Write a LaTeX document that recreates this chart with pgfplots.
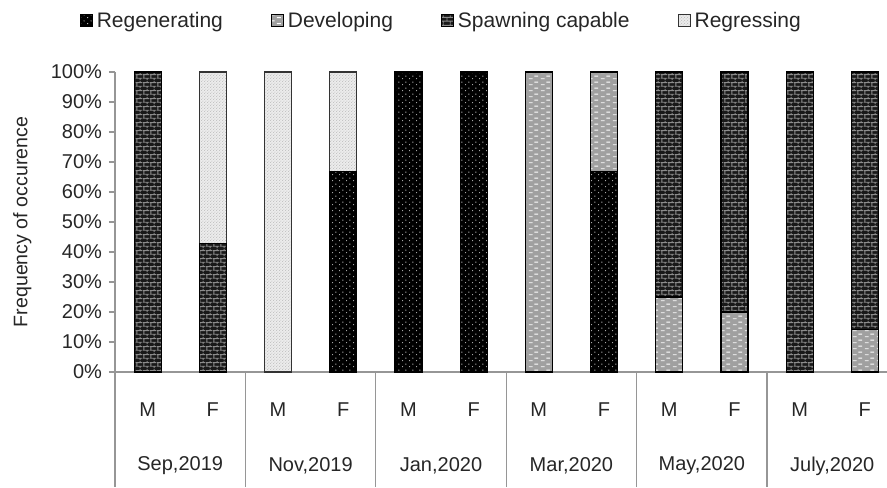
\documentclass[border=0pt]{standalone}
\usepackage{pgfplots}
\pgfplotsset{compat=1.18}
\usepackage{fontspec}
\setmainfont{Liberation Sans}
\usetikzlibrary{patterns}

\pgfdeclarepatternformonly{regen}{\pgfqpoint{0pt}{0pt}}{\pgfqpoint{3.6pt}{3pt}}{\pgfqpoint{3.6pt}{3pt}}{%
  \pgfpathcircle{\pgfqpoint{0.9pt}{0.75pt}}{0.3pt}%
  \pgfpathcircle{\pgfqpoint{2.7pt}{2.25pt}}{0.3pt}%
  \pgfusepath{fill}}
\pgfdeclarepatternformonly{devel}{\pgfqpoint{0pt}{0pt}}{\pgfqpoint{6pt}{3pt}}{\pgfqpoint{6pt}{3pt}}{%
  \pgfsetlinewidth{0.5pt}%
  \pgfpathmoveto{\pgfqpoint{0.5pt}{0.75pt}}\pgfpathlineto{\pgfqpoint{2.5pt}{0.75pt}}%
  \pgfpathmoveto{\pgfqpoint{3.5pt}{2.25pt}}\pgfpathlineto{\pgfqpoint{5.5pt}{2.25pt}}%
  \pgfusepath{stroke}}
\pgfdeclarepatternformonly{brick}{\pgfqpoint{0pt}{0pt}}{\pgfqpoint{3.6pt}{4pt}}{\pgfqpoint{3.6pt}{4pt}}{%
  \pgfsetlinewidth{0.45pt}%
  \pgfpathmoveto{\pgfqpoint{0pt}{1pt}}\pgfpathlineto{\pgfqpoint{3.6pt}{1pt}}%
  \pgfpathmoveto{\pgfqpoint{0pt}{3pt}}\pgfpathlineto{\pgfqpoint{3.6pt}{3pt}}%
  \pgfpathmoveto{\pgfqpoint{0.5pt}{1pt}}\pgfpathlineto{\pgfqpoint{0.5pt}{3pt}}%
  \pgfpathmoveto{\pgfqpoint{2.3pt}{3pt}}\pgfpathlineto{\pgfqpoint{2.3pt}{4pt}}%
  \pgfpathmoveto{\pgfqpoint{2.3pt}{0pt}}\pgfpathlineto{\pgfqpoint{2.3pt}{1pt}}%
  \pgfusepath{stroke}}
\pgfdeclarepatternformonly{regress}{\pgfqpoint{0pt}{0pt}}{\pgfqpoint{1.6pt}{1.6pt}}{\pgfqpoint{1.6pt}{1.6pt}}{%
  \pgfpathcircle{\pgfqpoint{0.4pt}{0.4pt}}{0.28pt}%
  \pgfpathcircle{\pgfqpoint{1.2pt}{1.2pt}}{0.28pt}%
  \pgfusepath{fill}}

\definecolor{axgray}{RGB}{150,150,150}
\definecolor{devgray}{RGB}{160,160,160}
\definecolor{regrfill}{RGB}{236,236,236}

\pgfplotstableread{
x regen devel spawn regress
0  0     0     100   0
1  0     0     42.9  57.1
2  0     0     0     100
3  66.7  0     0     33.3
4  100   0     0     0
5  100   0     0     0
6  0     100   0     0
7  66.7  33.3  0     0
8  0     25    75    0
9  0     20    80    0
10 0     0     100   0
11 0     14.3  85.7  0
}\datatable

\begin{document}
\begin{tikzpicture}
\useasboundingbox (0,0) rectangle (443.5pt,243.5pt);
\begin{axis}[
  at={(57.5pt,57.5pt)}, anchor=south west,
  scale only axis, width=386pt, height=150pt,
  ybar stacked, bar width=13.5pt,
  xmin=-0.5, xmax=11.34, ymin=0, ymax=100,
  axis x line=bottom, axis y line=left,
  axis line style={draw=axgray, line width=0.6pt, -},
  tick align=outside, major tick length=3pt,
  ytick={0,10,...,100},
  yticklabels={0\%,10\%,20\%,30\%,40\%,50\%,60\%,70\%,80\%,90\%,100\%},
  y tick style={draw=axgray, line width=0.6pt},
  yticklabel style={font=\fontsize{10}{12}\selectfont, text=black!85},
  xtick={0,...,11},
  xticklabels={M,F,M,F,M,F,M,F,M,F,M,F},
  x tick style={draw=none},
  xticklabel style={font=\fontsize{10}{12}\selectfont, text=black!85, yshift=-9pt},
  ylabel={Frequency of occurence},
  ylabel style={font=\fontsize{9.8}{11}\selectfont, text=black!85, at={(axis description cs:-0.12,0.5)}, anchor=center},
  legend columns=4,
  legend style={at={(0.424,1.17)}, anchor=center, draw=none, fill=none,
    font=\fontsize{10.5}{12}\selectfont, text=black!85,
    /tikz/every even column/.append style={column sep=22pt},
    inner sep=0pt},
  legend image code/.code={\draw[#1, line width=0.5pt] (0pt,-3pt) rectangle (6pt,3pt);},
  clip=false,
]
\addplot[draw=black, line width=0.6pt, fill=black, postaction={pattern=regen, pattern color=white}] table[x=x, y=regen] {\datatable};
\addplot[draw=black, line width=0.6pt, fill=devgray, postaction={pattern=devel, pattern color=white}] table[x=x, y=devel] {\datatable};
\addplot[draw=black, line width=0.6pt, fill=black!90, postaction={pattern=brick, pattern color=black!45}] table[x=x, y=spawn] {\datatable};
\addplot[draw=black!80, line width=0.6pt, fill=regrfill, postaction={pattern=regress, pattern color=black!35}] table[x=x, y=regress] {\datatable};
\legend{Regenerating, Developing, Spawning capable, Regressing}
\foreach \s in {-0.5,1.5,3.5,5.5,7.5,9.5}{
  \edef\tmp{\noexpand\draw[axgray, line width=0.6pt] (axis cs:\s,0) -- ++(0pt,-57.5pt);}
  \tmp
}
\foreach \m/\lab in {0.5/{Sep,2019},2.5/{Nov,2019},4.5/{Jan,2020},6.5/{Mar,2020},8.5/{May,2020},10.5/{July,2020}}{
  \edef\tmp{\noexpand\node[font=\noexpand\fontsize{10}{12}\noexpand\selectfont, text=black!85] at (axis cs:\m,0) [yshift=-47pt] {\lab};}
  \tmp
}
\end{axis}
\end{tikzpicture}
\end{document}
